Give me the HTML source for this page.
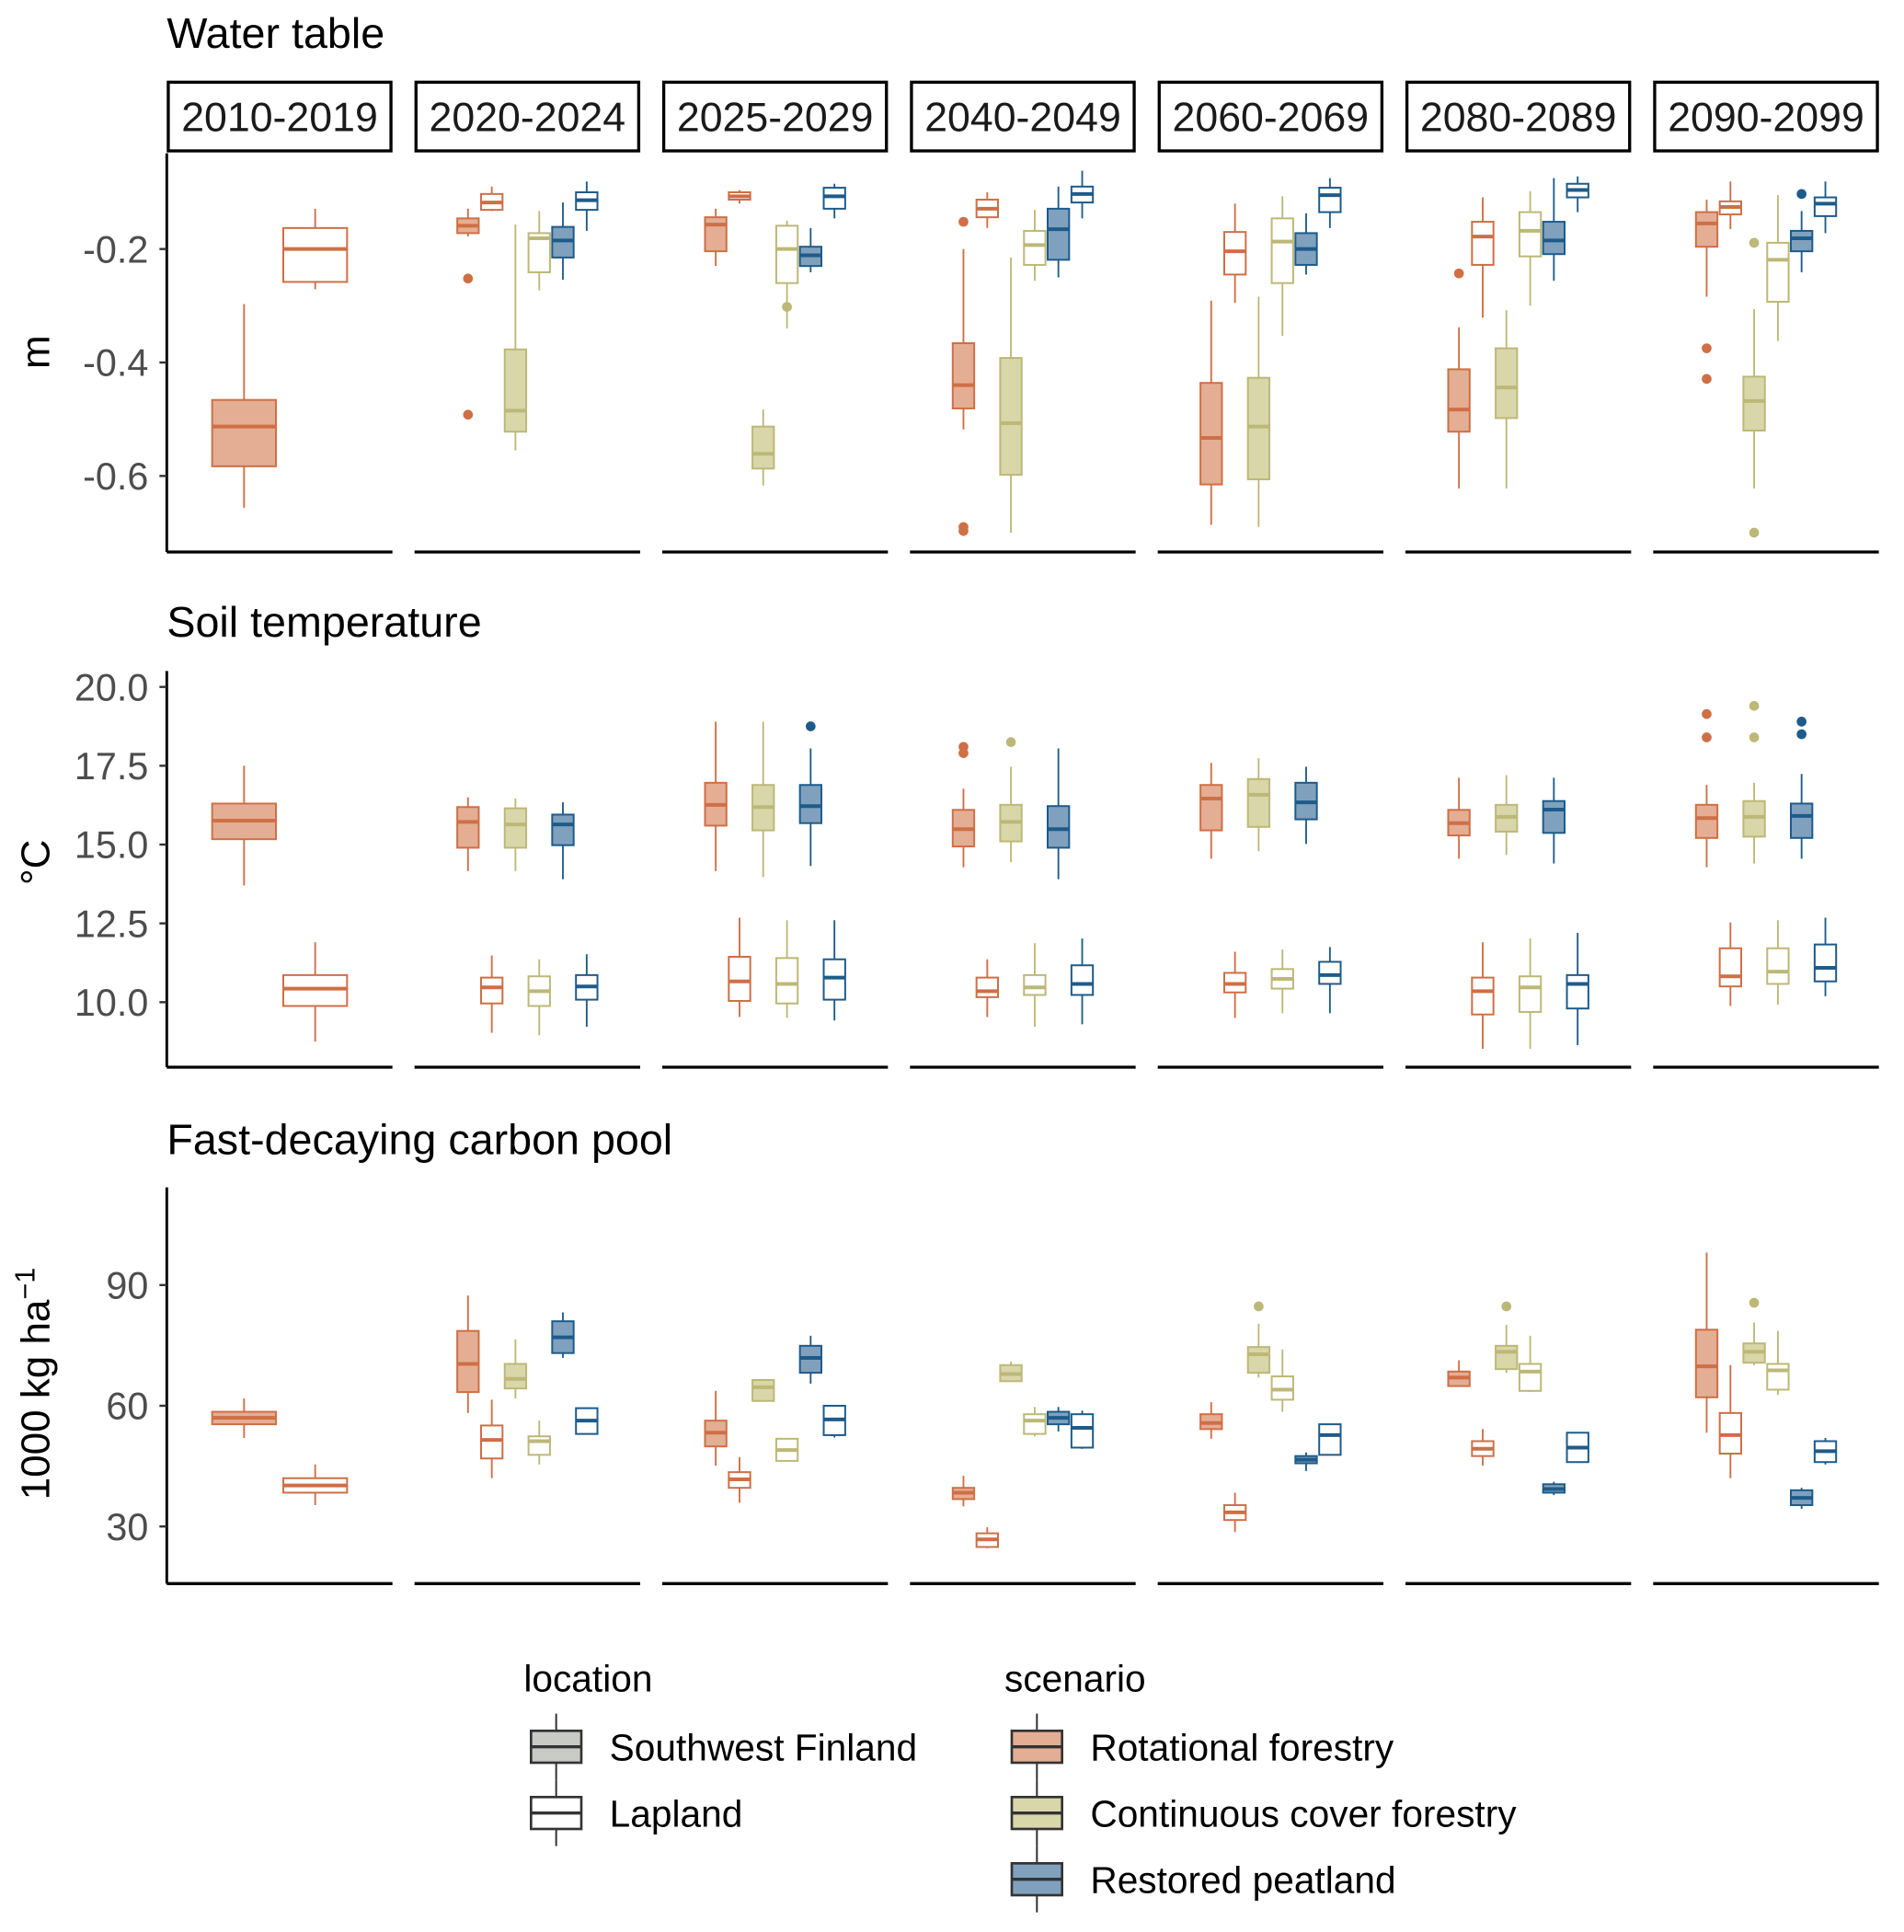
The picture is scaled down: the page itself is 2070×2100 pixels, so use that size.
<!DOCTYPE html>
<html><head><meta charset="utf-8">
<style>
html,body{margin:0;padding:0;background:#fff;}
svg{display:block;font-family:"Liberation Sans",sans-serif;}
</style></head>
<body>
<svg id="chart" width="2070" height="2100" viewBox="0 0 1552.5 1575" xmlns="http://www.w3.org/2000/svg"></svg>
<script>
// Facets (periods)
const periods = ["2010-2019","2020-2024","2025-2029","2040-2049","2060-2069","2080-2089","2090-2099"];
const scenarios = ["Rotational forestry","Continuous cover forestry","Restored peatland"];
const locations = ["Southwest Finland","Lapland"];
// Box order per facet: SW rot, Lap rot, SW cont, Lap cont, SW rest, Lap rest  -> [low,q1,med,q3,high]
const waterBoxes = [
 [[-0.656,-0.583,-0.513,-0.466,-0.297],[-0.271,-0.258,-0.2,-0.163,-0.129]],
 [[-0.178,-0.172,-0.159,-0.146,-0.129],[-0.133,-0.131,-0.118,-0.103,-0.09],[-0.555,-0.522,-0.485,-0.377,-0.157],[-0.273,-0.241,-0.181,-0.172,-0.133],[-0.254,-0.215,-0.185,-0.161,-0.118],[-0.168,-0.131,-0.114,-0.1,-0.081]],
 [[-0.23,-0.204,-0.157,-0.144,-0.129],[-0.12,-0.113,-0.107,-0.1,-0.096],[-0.617,-0.587,-0.561,-0.513,-0.483],[-0.34,-0.26,-0.2,-0.159,-0.15],[-0.241,-0.23,-0.211,-0.196,-0.163],[-0.146,-0.129,-0.107,-0.092,-0.085]],
 [[-0.518,-0.481,-0.44,-0.366,-0.2],[-0.163,-0.144,-0.129,-0.113,-0.1],[-0.7,-0.598,-0.507,-0.392,-0.215],[-0.256,-0.228,-0.193,-0.168,-0.131],[-0.25,-0.219,-0.165,-0.129,-0.09],[-0.146,-0.118,-0.103,-0.09,-0.062]],
 [[-0.686,-0.615,-0.533,-0.436,-0.291],[-0.295,-0.245,-0.204,-0.17,-0.12],[-0.69,-0.606,-0.513,-0.427,-0.284],[-0.353,-0.26,-0.187,-0.146,-0.107],[-0.245,-0.228,-0.2,-0.172,-0.137],[-0.163,-0.135,-0.105,-0.092,-0.075]],
 [[-0.622,-0.522,-0.483,-0.412,-0.338],[-0.321,-0.228,-0.178,-0.152,-0.109],[-0.622,-0.498,-0.444,-0.375,-0.308],[-0.3,-0.213,-0.168,-0.135,-0.098],[-0.256,-0.209,-0.185,-0.152,-0.075],[-0.135,-0.109,-0.096,-0.085,-0.072]],
 [[-0.284,-0.196,-0.155,-0.135,-0.113],[-0.165,-0.139,-0.126,-0.116,-0.081],[-0.622,-0.52,-0.468,-0.425,-0.306],[-0.362,-0.293,-0.219,-0.189,-0.105],[-0.241,-0.204,-0.181,-0.168,-0.133],[-0.172,-0.142,-0.12,-0.109,-0.081]]
];
const waterOutliers = [
 [[],[]],
 [[-0.252,-0.492],[],[],[],[],[]],
 [[],[],[],[-0.302],[],[]],
 [[-0.152,-0.69,-0.697],[],[],[],[],[]],
 [[],[],[],[],[],[]],
 [[-0.243],[],[],[],[],[]],
 [[-0.375,-0.429],[],[-0.189,-0.7],[],[-0.103],[]]
];
const soilBoxes = [
 [[13.7,15.17,15.76,16.3,17.5],[8.75,9.88,10.43,10.86,11.9]],
 [[14.16,14.9,15.72,16.19,16.5],[9.03,9.96,10.47,10.78,11.48],[14.16,14.9,15.64,16.15,16.46],[8.95,9.88,10.35,10.82,11.36],[13.9,14.98,15.64,15.95,16.34],[9.22,10.08,10.5,10.86,11.52]],
 [[14.16,15.6,16.26,16.96,18.9],[9.53,10.04,10.66,11.44,12.68],[13.97,15.45,16.19,16.89,18.9],[9.5,9.96,10.58,11.4,12.6],[14.32,15.68,16.22,16.89,18.05],[9.42,10.08,10.78,11.36,12.6]],
 [[14.28,14.94,15.49,16.1,16.77],[9.53,10.16,10.35,10.78,11.36],[14.44,15.1,15.72,16.26,17.47],[9.22,10.23,10.47,10.86,11.87],[13.9,14.9,15.49,16.22,18.05],[9.3,10.23,10.58,11.17,12.02]],
 [[14.55,15.45,16.46,16.89,17.59],[9.5,10.31,10.58,10.93,11.6],[14.79,15.56,16.58,17.08,17.74],[9.65,10.43,10.74,11.05,11.67],[15.02,15.8,16.34,16.96,17.47],[9.65,10.58,10.86,11.28,11.75]],
 [[14.55,15.29,15.68,16.1,17.12],[8.52,9.61,10.35,10.78,11.9],[14.67,15.41,15.88,16.26,17.2],[8.52,9.69,10.47,10.82,12.02],[14.4,15.37,16.11,16.38,17.12],[8.64,9.8,10.58,10.86,12.2]],
 [[14.28,15.21,15.84,16.26,16.89],[9.88,10.5,10.82,11.71,12.53],[14.4,15.25,15.88,16.38,16.96],[9.92,10.58,10.97,11.71,12.6],[14.55,15.21,15.91,16.3,17.24],[10.19,10.66,11.09,11.83,12.68]]
];
const soilOutliers = [
 [[],[]],
 [[],[],[],[],[],[]],
 [[],[],[],[],[18.75],[]],
 [[18.1,17.9],[],[18.25],[],[],[]],
 [[],[],[],[],[],[]],
 [[],[],[],[],[],[]],
 [[19.14,18.4],[],[19.4,18.4],[],[18.9,18.5],[]]
];
const carbonBoxes = [
 [[52,55.4,57,58.5,61.8],[35.3,38.4,40.2,42,45.4]],
 [[58.2,63.4,70.4,78.6,87.4],[42,46.9,51.5,55.1,61.5],[61.8,64.3,66.7,70.4,76.5],[45.4,47.8,51.2,52.4,56.3],[71.9,73.1,77,81,83.2],[53,53,56.3,59.4,59.4]],
 [[45.1,49.9,53.3,56.3,63.7],[35.9,39.6,41.7,43.5,47.2],[61.2,61.2,64.6,66.4,66.4],[46.3,46.3,49,51.8,51.8],[65.5,68.2,71.9,74.9,77.4],[52.1,52.7,56.6,60,60]],
 [[35,36.8,38.4,39.6,42.6],[24.6,24.9,26.8,28.3,29.8],[66.1,66.1,67.9,70.1,71],[52.4,53,56.3,57.9,59.7],[53.6,55.4,57,58.5,59.7],[49.3,49.6,54.5,57.9,58.8]],
 [[51.8,54.2,55.7,57.9,60.9],[28.6,31.6,33.5,35.3,38.4],[67,68.2,72.8,74.6,80.4],[58.5,61.5,64,67.3,74],[43.8,45.7,46.6,47.5,48.4],[47.8,47.8,52.7,55.4,55.4]],
 [[64.9,64.9,67,68.5,71.3],[45.1,47.5,49.3,51.2,54.2],[68.2,69.1,73.4,74.9,80.1],[63.4,63.7,68.5,70.4,77.4],[37.8,38.4,39.3,40.5,41.1],[46,46,49.6,53.3,53.3]],
 [[53.3,62.1,69.8,78.9,98.1],[42,48.1,52.7,58.2,70.1],[70.1,70.7,73.4,75.5,80.7],[62.7,64,68.8,70.4,78.6],[34.4,35.3,37.1,39,39.6],[45.4,46,48.7,51.2,52]]
];
const carbonOutliers = [
 [[],[]],
 [[],[],[],[],[],[]],
 [[],[],[],[],[],[]],
 [[],[],[],[],[],[]],
 [[],[],[84.7],[],[],[]],
 [[],[],[84.7],[],[],[]],
 [[],[],[85.6],[],[],[]]
];
const waterTicks = [-0.2,-0.4,-0.6];
const waterTickLabels = ["-0.2","-0.4","-0.6"];
const soilTicks = [20,17.5,15,12.5,10];
const soilTickLabels = ["20.0","17.5","15.0","12.5","10.0"];
const carbonTicks = [90,60,30];
const carbonTickLabels = ["90","60","30"];

const NS = "http://www.w3.org/2000/svg";
const svg = document.getElementById("chart");
function mk(tag, attrs, parent){
  const e = document.createElementNS(NS, tag);
  for (const k in attrs) e.setAttribute(k, attrs[k]);
  (parent||svg).appendChild(e);
  return e;
}
const strokeCol = ["#CF6F45","#BDB877","#1E5B8A"];
const fillCol = ["#E3AE94","#D9D6AA","#7FA1BE"];
const panelX0 = [136,338,540,742,944,1146,1348];
const panelW = 184;

// axis functions
function yWater(v){ return 203 + (-0.2 - v)*462.5; }
function ySoil(v){ return 817 - (v-10)*25.7; }
function yCarbon(v){ return 1146 - (v-60)*3.28; }

function boxX(facet, i){
  const c = panelX0[facet] + panelW/2;
  if (facet===0){ return {x: c + (i===0?-29:29), w: 52}; }
  const sc = Math.floor(i/2), loc = i%2;
  return {x: c + (sc-1)*38.7 + (loc===0?-9.7:9.7), w: 17.5};
}

function drawRow(opts){
  const g = mk("g", {});
  
  
  const t = mk("text", {x:136, y:opts.titleY, "font-size":35, fill:"#000"}, g);
  t.textContent = opts.title;
  
  
  const ax = mk("line", {x1:136, x2:136, y1:opts.top, y2:opts.bottom, stroke:"#000", "stroke-width":2.2}, g);
  
  
  opts.ticks.forEach((tv, k) => {
    const y = opts.yf(tv);
    const tk = mk("line", {x1:130, x2:136, y1:y, y2:y, stroke:"#333", "stroke-width":1.8}, g);
    
    
    const tl = mk("text", {x:121, y:y+11, "font-size":31, fill:"#4D4D4D", "text-anchor":"end"}, g);
    tl.textContent = opts.tickLabels[k];
    
    
  });
  const yt = mk("text", {x:0, y:0, "font-size":33, fill:"#000", "text-anchor":"middle", transform:`translate(40,${opts.axisTitleY}) rotate(-90)`}, g);
  yt.innerHTML = opts.axisTitle;
  
  
  periods.forEach((p, f) => {
    const bl = mk("line", {x1:panelX0[f], x2:panelX0[f]+panelW, y1:opts.bottom, y2:opts.bottom, stroke:"#000", "stroke-width":2.5}, g);
    
    
    opts.boxes[f].forEach((b, i) => {
      const {x, w} = boxX(f, i);
      const sc = Math.floor(i/2), loc = i%2;
      const col = strokeCol[sc];
      const bg = mk("g", {}, g);
      
      
      mk("line", {x1:x, x2:x, y1:opts.yf(b[4]), y2:opts.yf(b[3]), stroke:col, "stroke-width":1.4}, bg);
      mk("line", {x1:x, x2:x, y1:opts.yf(b[1]), y2:opts.yf(b[0]), stroke:col, "stroke-width":1.4}, bg);
      const y3 = opts.yf(b[3]), y1 = opts.yf(b[1]);
      mk("rect", {x:x-w/2, y:y3, width:w, height:Math.max(0.5, y1-y3), fill: loc===0?fillCol[sc]:"#fff", stroke:col, "stroke-width":1.5}, bg);
      const ym = opts.yf(b[2]);
      mk("line", {x1:x-w/2, x2:x+w/2, y1:ym, y2:ym, stroke:col, "stroke-width":3}, bg);
      opts.outliers[f][i].forEach(o => {
        const c = mk("circle", {cx:x, cy:opts.yf(o), r:4, fill:col}, bg);
        
        
      });
    });
  });
}

// strips
periods.forEach((p, f) => {
  const r = mk("rect", {x:panelX0[f]+1.2, y:67, width:panelW-2.4, height:56, fill:"#fff", stroke:"#000", "stroke-width":2.5});
  
  
  const t = mk("text", {x:panelX0[f]+panelW/2, y:107, "font-size":33.5, "text-anchor":"middle", fill:"#1A1A1A"});
  t.textContent = p;
  
  
});

drawRow({name:"water-table", title:"Water table", titleY:39, top:125, bottom:450, yf:yWater, ticks:waterTicks, tickLabels:waterTickLabels, axisTitle:"m", axisTitleY:287, boxes:waterBoxes, outliers:waterOutliers});
drawRow({name:"soil-temperature", title:"Soil temperature", titleY:519, top:547, bottom:870, yf:ySoil, ticks:soilTicks, tickLabels:soilTickLabels, axisTitle:"°C", axisTitleY:703, boxes:soilBoxes, outliers:soilOutliers});
drawRow({name:"carbon-pool", title:"Fast-decaying carbon pool", titleY:941, top:968, bottom:1291, yf:yCarbon, ticks:carbonTicks, tickLabels:carbonTickLabels, axisTitle:"1000 kg ha<tspan dy='-12' font-size='23'>−1</tspan>", axisTitleY:1128, boxes:carbonBoxes, outliers:carbonOutliers});

// legend
function legendKey(x, y, fill, label, name){
  const g = mk("g", {});
  
  
  mk("line", {x1:x+20.5, x2:x+20.5, y1:y-27, y2:y+27, stroke:"#333", "stroke-width":1.5}, g);
  mk("rect", {x:x, y:y-13, width:41, height:26, fill:fill, stroke:"#333", "stroke-width":2}, g);
  mk("line", {x1:x, x2:x+41, y1:y, y2:y, stroke:"#333", "stroke-width":2.5}, g);
  const t = mk("text", {x:x+64, y:y+11, "font-size":30.5, fill:"#000"}, g);
  t.textContent = label;
}
const lt1 = mk("text", {x:427, y:1379, "font-size":30.5, fill:"#000"});
lt1.textContent = "location";


const lt2 = mk("text", {x:819, y:1379, "font-size":30.5, fill:"#000"});
lt2.textContent = "scenario";


const locFill = ["#C8CAC6","#fff"];
locations.forEach((l, i) => legendKey(433, 1424 + i*54, locFill[i], l, 'legend-entry-' + (i===0?'southwest-finland':'lapland')));
scenarios.forEach((s, i) => legendKey(825, 1424 + i*54, fillCol[i], s, 'legend-entry-' + ['rotational','continuous','restored'][i]));
</script>
</body></html>
